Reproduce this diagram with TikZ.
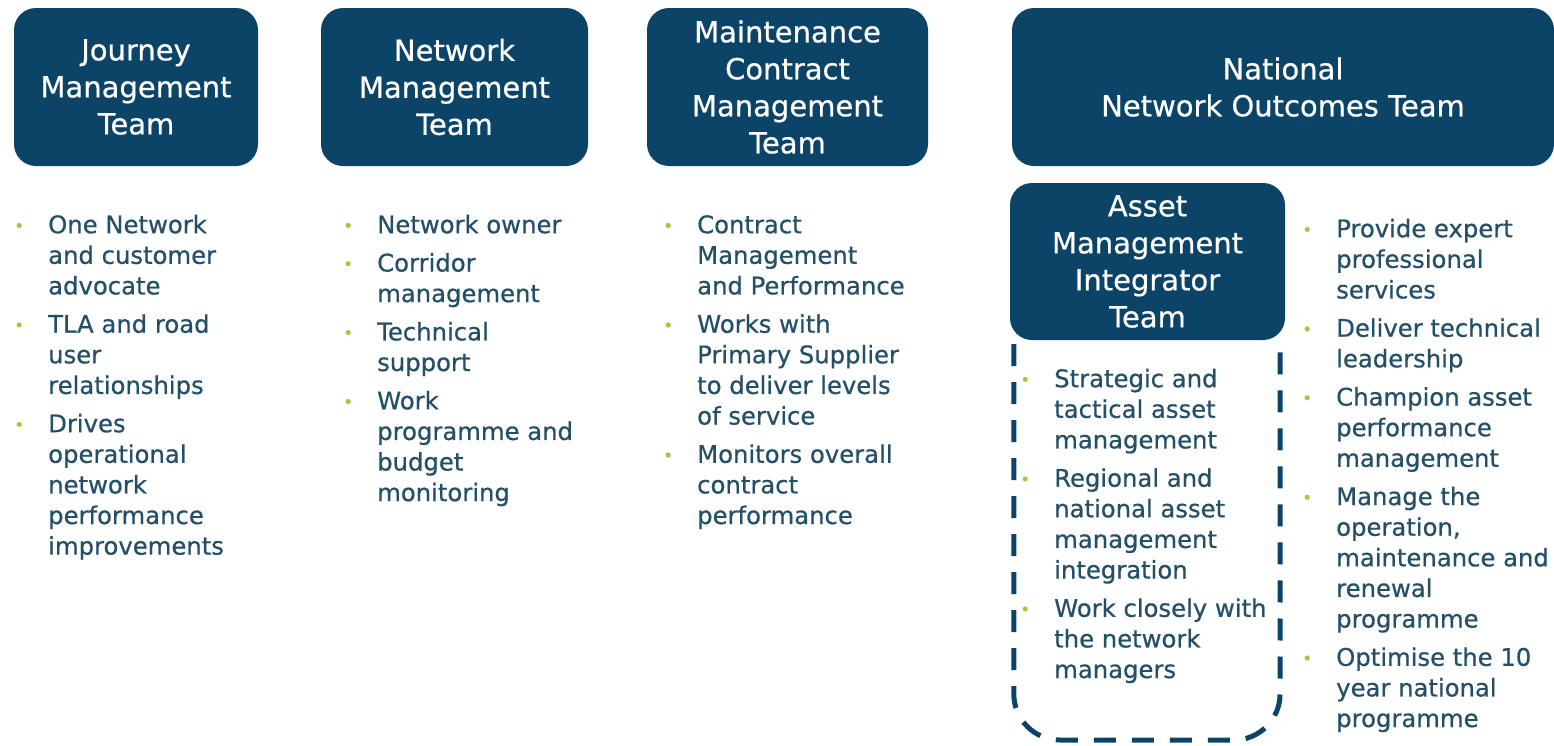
\documentclass[tikz,border=0pt]{standalone}
\usepackage{fontspec}
\setmainfont{DejaVu Sans}
\newfontfamily\heavyfont{DejaVu Sans}[FakeBold=0.6]
\usetikzlibrary{positioning}

\definecolor{teamblue}{HTML}{0C4468}
\definecolor{itemtext}{HTML}{244F68}
\definecolor{bulletgreen}{HTML}{A2C63E}

\newcommand{\bul}{\llap{\raisebox{1.5pt}{\textcolor{bulletgreen}{\fontsize{17}{17}\selectfont\textbullet}}\hspace{24pt}}}

\begin{document}
\begin{tikzpicture}[x=1pt,y=-1pt,
  team/.style={rectangle,rounded corners=22pt,fill=teamblue,text=white,align=center,
    inner sep=0pt,minimum height=158pt,font=\heavyfont\fontsize{29}{37}\selectfont},
  duties/.style={anchor=north west,align=left,inner sep=0pt,text=itemtext,
    font=\heavyfont\fontsize{24.3}{30.6}\selectfont},
  dashbox/.style={draw=teamblue,line width=5pt,dash pattern=on 22pt off 16pt,rounded corners=46pt}]
\useasboundingbox (0,0) rectangle (1554,745);

\node[team,minimum width=244pt] (journey) at (136,87) {Journey\\Management\\Team};
\node[team,minimum width=267pt] (network) at (454.5,87) {Network\\Management\\Team};
\node[team,minimum width=281pt] (maint) at (787.5,87) {Maintenance\\Contract\\Management\\Team};
\node[team,minimum width=542pt] (national) at (1283,87) {National\\Network Outcomes Team};
\node[team,minimum width=275pt,minimum height=157pt] (asset) at (1147.5,261.5) {Asset\\Management\\Integrator\\Team};

\coordinate (dashend) at (1280,740);
\draw[dashbox] ([xshift=4pt,yshift=-4pt]asset.south west) |- (dashend) -- ([xshift=-5pt,yshift=-4pt]asset.south east);

\node[duties] (jmt) at (48,211.6) {\strut\bul One Network\\and customer\\advocate\\[7.7pt]
  \bul TLA and road\\user\\relationships\\[7.7pt]
  \bul Drives\\operational\\network\\performance\\improvements};
\node[duties] (nmt) at (377,211.6) {\strut\bul Network owner\\[7.7pt]
  \bul Corridor\\management\\[7.7pt]
  \bul Technical\\support\\[7.7pt]
  \bul Work\\programme and\\budget\\monitoring};
\node[duties] (mcm) at (697,211.6) {\strut\bul Contract\\Management\\and Performance\\[7.7pt]
  \bul Works with\\Primary Supplier\\to deliver levels\\of service\\[7.7pt]
  \bul Monitors overall\\contract\\performance};
\node[duties] (ami) at (1054,365.6) {\strut\bul Strategic and\\tactical asset\\management\\[7.7pt]
  \bul Regional and\\national asset\\management\\integration\\[7.7pt]
  \bul Work closely with\\the network\\managers};
\node[duties] (nno) at (1336,215.6) {\strut\bul Provide expert\\professional\\services\\[7.7pt]
  \bul Deliver technical\\leadership\\[7.7pt]
  \bul Champion asset\\performance\\management\\[7.7pt]
  \bul Manage the\\operation,\\maintenance and\\renewal\\programme\\[7.7pt]
  \bul Optimise the 10\\year national\\programme};
\end{tikzpicture}
\end{document}
